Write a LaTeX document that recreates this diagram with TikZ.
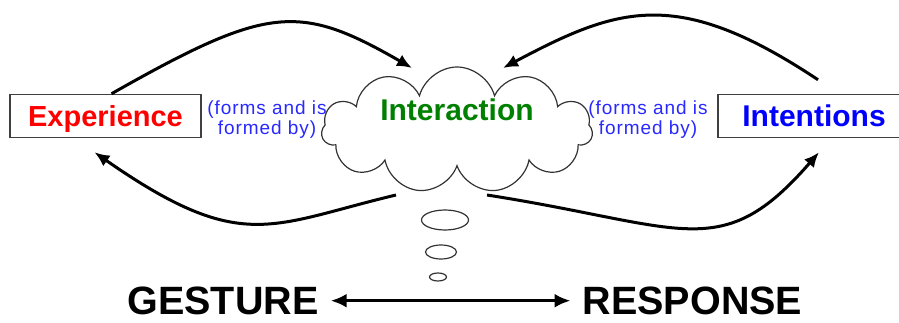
\documentclass[tikz,border=0pt]{standalone}
\usepackage{fontspec}
\setmainfont{Liberation Sans}
\newfontfamily\notefont[LetterSpace=5]{Liberation Sans}
\usepackage{xcolor}
\usetikzlibrary{positioning, arrows, arrows.meta, shapes}
\definecolor{notecol}{RGB}{40,40,255}
\definecolor{intercol}{RGB}{0,128,0}

\begin{document}
\begin{tikzpicture}[x=1pt,y=-1pt,
  box/.style={draw=black!75, line width=1.5pt, minimum height=43pt, inner sep=0pt, text depth=0pt},
  note/.style={align=center, text=notecol, font=\notefont\fontsize{19}{20}\selectfont},
  bubble/.style={draw=black!80, line width=1.2pt, ellipse, inner sep=0pt},
  bigword/.style={font=\bfseries\fontsize{39.5}{40}\selectfont, inner sep=1pt, text depth=0pt, anchor=base},
  flow/.style={line width=3pt, -{Latex[length=15pt,width=13pt]}}]
\useasboundingbox (0,0) rectangle (899,323);

%boxes
\node[box, minimum width=191pt] (exp) at (105.5,116) {\textcolor{red}{\bfseries\fontsize{29}{30}\selectfont Experience}};
\node[box, minimum width=192pt] (int) at (814,116) {\textcolor{blue}{\bfseries\fontsize{30}{31}\selectfont Intentions}};

%cloud
\node[cloud, cloud puffs=11, cloud ignores aspect, draw=black!80, line width=1.2pt, minimum width=271pt, minimum height=126pt] (cloud) at (457,130) {};
\node (inter) at (457,110) {\textcolor{intercol}{\bfseries\fontsize{30}{31}\selectfont Interaction}};

\node[note] (leftnote) at (267,120) {(forms and is\\formed by)};
\node[note] (rightnote) at (648,120) {(forms and is\\formed by)};

%thought bubbles
\node[bubble, minimum width=47pt, minimum height=20pt] (b1) at (445,220) {};
\node[bubble, minimum width=31pt, minimum height=14pt] (b2) at (441,252) {};
\node[bubble, minimum width=17pt, minimum height=8pt] (b3) at (438,277) {};

\coordinate (topleft) at (412,68);
\coordinate (topright) at (503,68);
\coordinate (lowleft) at (396,195);
\coordinate (lowright) at (487,195);

\draw[flow] ([xshift=6pt]exp.north) .. controls (268,5) and (299,3) .. (topleft);
\draw[flow] ([xshift=4pt,yshift=14pt]int.north) .. controls (677,-14) and (618,7) .. (topright);
\draw[flow] (lowleft) .. controls (270,225) and (242,255) .. ([xshift=-11pt,yshift=-14pt]exp.south);
\draw[flow] (lowright) .. controls (685,226) and (721,265) .. ([xshift=5pt,yshift=-14pt]int.south);

%bottom
\node[bigword] (gesture) at (223,314.5) {GESTURE};
\node[bigword] (response) at (692.5,314.5) {RESPONSE};
\draw[line width=3.5pt, {Latex[length=16pt,width=14pt]}-{Latex[length=16pt,width=14pt]}, shorten <=11pt, shorten >=11pt] (gesture.east) -- (response.west);

\end{tikzpicture}
\end{document}
